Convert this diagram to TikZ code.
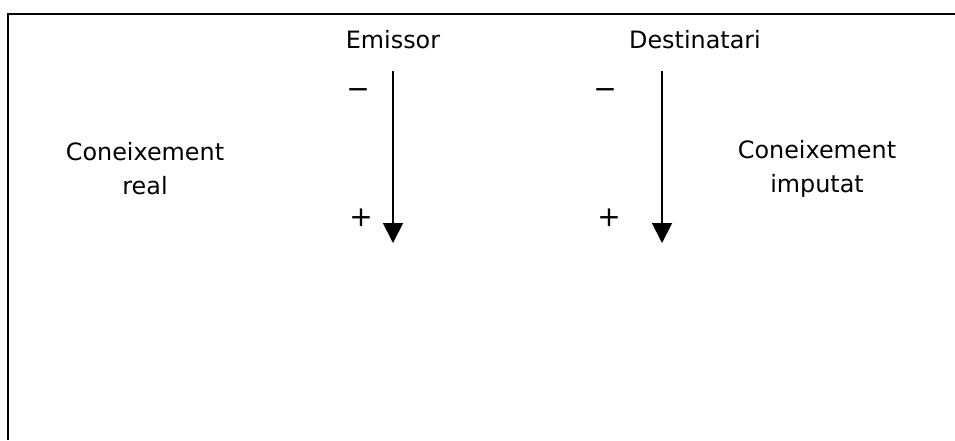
\documentclass[tikz,border=0pt]{standalone}
\usepackage{fontspec}
\setmainfont{DejaVu Sans}
\usetikzlibrary{arrows.meta,positioning}
\tikzset{txt/.style={inner sep=0pt, font=\fontsize{17.9}{25.5}\selectfont},
sign/.style={txt, anchor=base, font=\fontsize{21}{25}\selectfont},
head/.style={txt, anchor=base},
side/.style={txt, align=center},
axis arrow/.style={line width=1.4pt, -{Triangle[width=15pt,length=15pt]}},
border/.style={line width=1.5pt}}

\begin{document}
\begin{tikzpicture}[x=0.75pt,y=-0.75pt]
  \useasboundingbox (0,0) rectangle (955,440);
  % open frame, top and left side only
  \coordinate (tl) at (8,14);
  \coordinate (tr) at (955,14);
  \coordinate (bl) at (8,440);
  \draw [border] (tr) -- (tl) -- (bl);
  % the two scales
  \node (emissor) [head] at (393,48) {Emissor};
  \node (destinatari) [head] at (695,48) {Destinatari};
  \coordinate (e top) at (393,71);
  \coordinate (e bot) at (393,243);
  \coordinate (d top) at (662,71);
  \coordinate (d bot) at (662,243);
  \draw [axis arrow] (e top) -- (e bot);
  \draw [axis arrow] (d top) -- (d bot);
  \node (e minus) [sign] at (358,98) {−};
  \node (e plus) [sign] at (361,226) {+};
  \node (d minus) [sign] at (605,98) {−};
  \node (d plus) [sign] at (609,226) {+};
  % labels at the sides
  \node (real) [side] at (145,169) {Coneixement\\real};
  \node (imputat) [side] at (817,169) {Coneixement\\imputat};
\end{tikzpicture}
\end{document}
